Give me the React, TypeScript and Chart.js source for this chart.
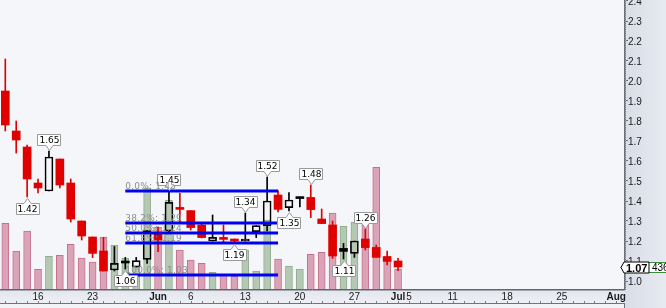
import React, { useEffect, useRef } from 'react';
import { Chart, registerables } from 'chart.js';

Chart.register(...registerables);

// ---------- data ----------
const tradingDays = [
  '2011-05-11', '2011-05-12', '2011-05-13', '2011-05-16', '2011-05-17', '2011-05-18', '2011-05-19', '2011-05-20',
  '2011-05-23', '2011-05-24', '2011-05-25', '2011-05-26', '2011-05-27', '2011-05-31',
  '2011-06-01', '2011-06-02', '2011-06-03', '2011-06-06', '2011-06-07', '2011-06-08', '2011-06-09', '2011-06-10',
  '2011-06-13', '2011-06-14', '2011-06-15', '2011-06-16', '2011-06-17', '2011-06-20', '2011-06-21', '2011-06-22',
  '2011-06-23', '2011-06-24', '2011-06-27', '2011-06-28', '2011-06-29', '2011-06-30', '2011-07-01',
  '2011-07-05', '2011-07-06', '2011-07-07', '2011-07-08', '2011-07-11', '2011-07-12', '2011-07-13', '2011-07-14',
  '2011-07-15', '2011-07-18', '2011-07-19', '2011-07-20', '2011-07-21', '2011-07-22', '2011-07-25', '2011-07-26',
  '2011-07-27', '2011-07-28', '2011-07-29', '2011-08-01', '2011-08-02',
];

const opens = [1.95, 1.75, 1.67, 1.49, 1.45, 1.61, 1.49, 1.30, 1.22, 1.15, 1.055, 1.097, 1.07, 1.108, 1.243, 1.25, 1.362, 1.352, 1.28, 1.20, 1.218, 1.21, 1.20, 1.247, 1.277, 1.43, 1.367, 1.412, 1.418, 1.31, 1.28, 1.163, 1.138, 1.21, 1.168, 1.122, 1.10];
const highs = [2.11, 1.80, 1.68, 1.51, 1.65, 1.61, 1.51, 1.30, 1.22, 1.218, 1.172, 1.118, 1.118, 1.252, 1.27, 1.45, 1.438, 1.352, 1.29, 1.33, 1.28, 1.21, 1.34, 1.277, 1.52, 1.452, 1.442, 1.42, 1.48, 1.36, 1.30, 1.188, 1.20, 1.26, 1.18, 1.15, 1.113];
const lows = [1.75, 1.64, 1.42, 1.44, 1.45, 1.465, 1.295, 1.205, 1.117, 1.05, 1.05, 1.06, 1.07, 1.088, 1.147, 1.245, 1.297, 1.255, 1.215, 1.20, 1.188, 1.19, 1.20, 1.217, 1.25, 1.345, 1.35, 1.37, 1.317, 1.287, 1.113, 1.11, 1.118, 1.155, 1.118, 1.08, 1.052];
const closes = [1.78, 1.705, 1.51, 1.465, 1.62, 1.48, 1.31, 1.225, 1.138, 1.05, 1.088, 1.09, 1.102, 1.252, 1.205, 1.393, 1.358, 1.267, 1.217, 1.218, 1.208, 1.20, 1.21, 1.277, 1.40, 1.358, 1.405, 1.412, 1.357, 1.287, 1.125, 1.148, 1.20, 1.167, 1.118, 1.098, 1.07];
const volumes = [1432, 828, 1264, 429, 713, 735, 974, 676, 589, 1134, 953, 669, 480, 2208, 1345, 1934, 850, 632, 560, 364, 320, 277, 850, 392, 1504, 654, 501, 436, 756, 800, 1657, 1367, 1461, 1432, 2653, 719, 436];

const xTickDates = ['2011-05-16', '2011-05-23', '2011-06-01', '2011-06-06', '2011-06-13', '2011-06-20', '2011-06-27', '2011-07-01', '2011-07-05', '2011-07-11', '2011-07-18', '2011-07-25', '2011-08-01'];
const xTickLabels = ['16', '23', 'Jun', '6', '13', '20', '27', 'Jul', '5', '11', '18', '25', 'Aug'];
const yTickValues = [1.0, 1.1, 1.2, 1.3, 1.4, 1.5, 1.6, 1.7, 1.8, 1.9, 2.0, 2.1, 2.2, 2.3, 2.4];

const fibPercents = ['0.0', '38.2', '50.0', '61.8', '100.0'];
const fibValues = [1.45, 1.29, 1.24, 1.19, 1.03];
const fibStartDate = '2011-05-26';
const fibEndDate = '2011-06-16';

const highLabelDates = ['2011-05-17', '2011-06-02', '2011-06-13', '2011-06-15', '2011-06-21', '2011-06-28'];
const lowLabelDates = ['2011-05-13', '2011-05-26', '2011-06-10', '2011-06-17', '2011-06-24'];

// ---------- styles ----------
const RED = '#e00000';
const BLACK = '#000000';
const VOL_DN_FILL = '#dba4b6';
const VOL_DN_EDGE = '#c7708c';
const VOL_UP_FILL = '#b5c8b3';
const VOL_UP_EDGE = '#8fab8c';
const FIB_BLUE = '#0000f0';
const SANS = '"Liberation Sans", Arial, sans-serif';
const DV = '"DejaVu Sans", Verdana, sans-serif';
const X_MIN = -0.486;
const X_MAX = 56.71;
const Y_MIN = 0.96;
const Y_MAX = 2.405;
const VOL_MAX = 6300;

function calloutPath(ctx: CanvasRenderingContext2D, cx: number, tipY: number, w: number, above: boolean) {
  const h = 11;
  const tri = 5;
  const x = Math.round(cx) + 0.5;
  const left = Math.round(cx - w / 2) + 0.5;
  const right = left + w;
  ctx.beginPath();
  if (above) {
    const bottom = Math.round(tipY - tri) + 0.5;
    const top = bottom - h;
    ctx.moveTo(left, top);
    ctx.lineTo(right, top);
    ctx.lineTo(right, bottom);
    ctx.lineTo(x + 3.5, bottom);
    ctx.lineTo(x, bottom + tri);
    ctx.lineTo(x - 3.5, bottom);
    ctx.lineTo(left, bottom);
    ctx.closePath();
    return (top + bottom) / 2;
  }
  const top = Math.round(tipY + tri) + 0.5;
  const bottom = top + h;
  ctx.moveTo(left, top);
  ctx.lineTo(x - 3.5, top);
  ctx.lineTo(x, top - tri);
  ctx.lineTo(x + 3.5, top);
  ctx.lineTo(right, top);
  ctx.lineTo(right, bottom);
  ctx.lineTo(left, bottom);
  ctx.closePath();
  return (top + bottom) / 2;
}

const backgroundPlugin = {
  id: 'bgPanels',
  beforeDraw(chart: any) {
    const { ctx, chartArea: a, width, height } = chart;
    ctx.save();
    ctx.fillStyle = '#f4f6fa';
    ctx.fillRect(0, 0, width, height);
    const g = ctx.createLinearGradient(a.right, 0, width, 0);
    g.addColorStop(0, '#d9dde7');
    g.addColorStop(1, '#e7eaf1');
    ctx.fillStyle = g;
    ctx.fillRect(a.right, 0, width - a.right, height);
    const g2 = ctx.createLinearGradient(0, a.bottom, 0, a.bottom + 14);
    g2.addColorStop(0, '#e2e5ec');
    g2.addColorStop(1, '#eef0f5');
    ctx.fillStyle = g2;
    ctx.fillRect(0, a.bottom, a.right + 1, 14);
    ctx.fillStyle = '#f2f3f6';
    ctx.fillRect(0, a.bottom + 14, a.right + 1, height - a.bottom - 14);
    ctx.restore();
  },
};

const annotationsPlugin = {
  id: 'annotations',
  afterDatasetsDraw(chart: any) {
    const { ctx } = chart;
    const xs = chart.scales.x;
    const ys = chart.scales.y;
    ctx.save();
    // callouts for highs and lows
    ctx.font = `9px ${DV}`;
    ctx.lineWidth = 1;
    const drawCallout = (d: string, above: boolean) => {
      const i = tradingDays.indexOf(d);
      const v = above ? highs[i] : lows[i];
      const text = v.toFixed(2);
      const cx = xs.getPixelForValue(i);
      const py = ys.getPixelForValue(v);
      const tw = ctx.measureText(text).width;
      const w = Math.round(tw + 3);
      const midY = calloutPath(ctx, cx, above ? py - 1 : py + 1, w, above);
      ctx.fillStyle = '#ffffff';
      ctx.fill();
      ctx.strokeStyle = '#9a9a9a';
      ctx.stroke();
      ctx.fillStyle = '#000000';
      ctx.textAlign = 'center';
      ctx.textBaseline = 'middle';
      ctx.fillText(text, Math.round(cx) + 0.5, midY + 0.5);
    };
    highLabelDates.forEach((d) => drawCallout(d, true));
    lowLabelDates.forEach((d) => drawCallout(d, false));

    // fibonacci texts
    ctx.font = `9px ${DV}`;
    (ctx as any).letterSpacing = '0.2px';
    ctx.fillStyle = '#8e8e8e';
    ctx.textAlign = 'left';
    ctx.textBaseline = 'alphabetic';
    const fx = xs.getPixelForValue(tradingDays.indexOf(fibStartDate));
    fibValues.forEach((v, k) => {
      const y = ys.getPixelForValue(v);
      ctx.fillText(`${fibPercents[k]}%: ${v.toFixed(2)}`, fx, y - 2.5);
    });
    (ctx as any).letterSpacing = '0px';
    ctx.restore();
  },
  afterDraw(chart: any) {
    const { ctx, chartArea: a, width, height } = chart;
    const xs = chart.scales.x;
    const ys = chart.scales.y;
    ctx.save();
    // shadows of plot borders
    ctx.strokeStyle = '#a4a8b0';
    ctx.lineWidth = 1;
    ctx.beginPath();
    ctx.moveTo(a.right + 1.5, 0);
    ctx.lineTo(a.right + 1.5, a.bottom + 1);
    ctx.moveTo(0, a.bottom + 1.5);
    ctx.lineTo(a.right + 1, a.bottom + 1.5);
    ctx.stroke();
    // y minor ticks
    ctx.strokeStyle = '#7a7d84';
    ctx.beginPath();
    for (let k = Math.ceil(Y_MIN * 100); k <= Math.floor(Y_MAX * 100); k++) {
      const y = Math.round(ys.getPixelForValue(k / 100)) + 0.5;
      ctx.moveTo(a.right, y);
      ctx.lineTo(a.right + 2, y);
    }
    ctx.stroke();
    // x-axis bottom line and minor ticks
    const by = a.bottom + 14;
    ctx.strokeStyle = '#6f737a';
    ctx.beginPath();
    ctx.moveTo(0, by + 0.5);
    ctx.lineTo(a.right + 1, by + 0.5);
    ctx.moveTo(a.right + 0.5, by);
    ctx.lineTo(a.right + 0.5, height);
    ctx.stroke();
    ctx.strokeStyle = '#7a7d84';
    ctx.beginPath();
    tradingDays.forEach((_, i) => {
      const x = Math.round(xs.getPixelForValue(i)) + 0.5;
      if (x > a.right) return;
      ctx.moveTo(x, by);
      ctx.lineTo(x, by - 2);
    });
    ctx.stroke();

    // last price / volume label
    const n = closes.length;
    const y = Math.round(ys.getPixelForValue(closes[n - 1])) + 0.5;
    const L = a.right - 3;
    ctx.beginPath();
    ctx.moveTo(L, y);
    ctx.lineTo(L + 4, y - 5);
    ctx.lineTo(width + 5, y - 5);
    ctx.lineTo(width + 5, y + 5);
    ctx.lineTo(L + 4, y + 5);
    ctx.closePath();
    ctx.fillStyle = '#ffffff';
    ctx.fill();
    ctx.strokeStyle = '#3d8a3d';
    ctx.stroke();
    ctx.fillStyle = '#000000';
    ctx.font = `10px ${SANS}`;
    ctx.textAlign = 'left';
    ctx.textBaseline = 'middle';
    ctx.fillText(String(volumes[n - 1]), L + 31, y + 1);
    ctx.beginPath();
    ctx.moveTo(L, y);
    ctx.lineTo(L + 3, y - 5.5);
    ctx.lineTo(L + 28, y - 5.5);
    ctx.lineTo(L + 28, y + 5.5);
    ctx.lineTo(L + 3, y + 5.5);
    ctx.closePath();
    ctx.fillStyle = '#ffffff';
    ctx.fill();
    ctx.strokeStyle = '#000000';
    ctx.stroke();
    ctx.fillStyle = '#000000';
    ctx.font = `bold 11px ${SANS}`;
    ctx.fillText(closes[n - 1].toFixed(2), L + 5, y + 1);
    ctx.restore();
  },
};

export default function App() {
  const ref = useRef<HTMLCanvasElement>(null);

  useEffect(() => {
    document.body.style.margin = '0';
    const canvas = ref.current;
    if (!canvas) return;
    const idxs = closes.map((_, i) => i);
    const up = closes.map((c, i) => (i === 0 ? c >= opens[0] : c >= closes[i - 1]));
    const candleColor = up.map((u) => (u ? BLACK : RED));
    const hollow = closes.map((c, i) => c > opens[i]);
    const fibStart = tradingDays.indexOf(fibStartDate);
    const fibEnd = tradingDays.indexOf(fibEndDate);
    const xTickIdx = xTickDates.map((d) => tradingDays.indexOf(d));

    const fibSets = fibValues.map((v, k) => ({
      type: 'line' as const,
      label: `Fib ${fibPercents[k]}%`,
      data: [{ x: fibStart, y: v }, { x: fibEnd, y: v }],
      borderColor: FIB_BLUE,
      backgroundColor: FIB_BLUE,
      borderWidth: 3,
      borderCapStyle: 'butt' as const,
      pointRadius: 0,
      yAxisID: 'y',
      order: 0,
    }));

    const chart = new Chart(canvas, {
      type: 'bar',
      data: {
        datasets: [
          ...fibSets,
          {
            type: 'bar',
            label: 'body',
            data: idxs.map((i) => ({ x: i, y: [opens[i], closes[i]] })),
            backgroundColor: idxs.map((i) => (hollow[i] ? 'rgba(0,0,0,0)' : candleColor[i])),
            borderColor: candleColor,
            borderWidth: idxs.map((i) => (hollow[i] ? 1 : 0)),
            borderSkipped: false,
            barThickness: 8,
            minBarLength: 2,
            grouped: false,
            yAxisID: 'y',
            order: 1,
          } as any,
          {
            type: 'bar',
            label: 'upper wick',
            data: idxs.map((i) => ({ x: i, y: [Math.max(opens[i], closes[i]), highs[i]] })),
            backgroundColor: candleColor,
            borderWidth: 0,
            barThickness: 1,
            grouped: false,
            yAxisID: 'y',
            order: 2,
          } as any,
          {
            type: 'bar',
            label: 'lower wick',
            data: idxs.map((i) => ({ x: i, y: [lows[i], Math.min(opens[i], closes[i])] })),
            backgroundColor: candleColor,
            borderWidth: 0,
            barThickness: 1,
            grouped: false,
            yAxisID: 'y',
            order: 2,
          } as any,
          {
            type: 'bar',
            label: 'volume',
            data: volumes.map((v, i) => ({ x: i, y: v })),
            backgroundColor: up.map((u) => (u ? VOL_UP_FILL : VOL_DN_FILL)),
            borderColor: up.map((u) => (u ? VOL_UP_EDGE : VOL_DN_EDGE)),
            borderWidth: 1,
            barThickness: 7,
            grouped: false,
            yAxisID: 'yv',
            order: 3,
          } as any,
        ],
      },
      options: {
        responsive: false,
        animation: false,
        events: [],
        layout: { padding: 0 },
        plugins: { legend: { display: false }, tooltip: { enabled: false } },
        scales: {
          x: {
            type: 'linear',
            min: X_MIN,
            max: X_MAX,
            offset: false,
            grid: { display: true, drawOnChartArea: false, drawTicks: false },
            border: { display: true, color: '#60646b', width: 1 },
            ticks: {
              autoSkip: false,
              maxRotation: 0,
              minRotation: 0,
              padding: 2,
              color: '#1a1a1a',
              font: (c: any) => {
                const lbl = c.tick ? xTickLabels[xTickIdx.indexOf(c.tick.value)] : '';
                const bold = /[A-Za-z]/.test(lbl || '');
                return { family: SANS, size: 10, weight: bold ? 'bold' : 'normal' } as any;
              },
              callback: (v: any) => {
                const k = xTickIdx.indexOf(Number(v));
                return k >= 0 ? xTickLabels[k] : '';
              },
            },
            afterBuildTicks: (s: any) => {
              s.ticks = xTickIdx.map((v) => ({ value: v }));
            },
            afterFit: (s: any) => {
              s.height = 19;
              s.paddingLeft = 0;
              s.paddingRight = 0;
              s.paddingTop = 0;
              s.paddingBottom = 0;
            },
          },
          y: {
            type: 'linear',
            position: 'right',
            min: Y_MIN,
            max: Y_MAX,
            grid: { display: true, drawOnChartArea: false, drawTicks: true, tickLength: 4, color: '#6f737a' },
            border: { display: true, color: '#60646b', width: 1 },
            ticks: {
              padding: 0,
              labelOffset: 1.5,
              color: '#1a1a1a',
              font: { family: SANS, size: 10 },
              callback: (v: any) => Number(v).toFixed(1),
            },
            afterBuildTicks: (s: any) => {
              s.ticks = yTickValues.map((v) => ({ value: v }));
            },
            afterFit: (s: any) => {
              s.width = 42;
              s.paddingTop = 0;
              s.paddingBottom = 0;
              s.paddingLeft = 0;
              s.paddingRight = 0;
            },
          },
          yv: {
            type: 'linear',
            display: false,
            min: 0,
            max: VOL_MAX,
          },
        },
      } as any,
      plugins: [backgroundPlugin, annotationsPlugin],
    });
    return () => chart.destroy();
  }, []);

  return (
    <div style={{ position: 'fixed', left: 0, top: 0, width: 666, height: 308 }}>
      <canvas ref={ref} width={666} height={308} style={{ display: 'block', width: 666, height: 308 }} />
    </div>
  );
}
